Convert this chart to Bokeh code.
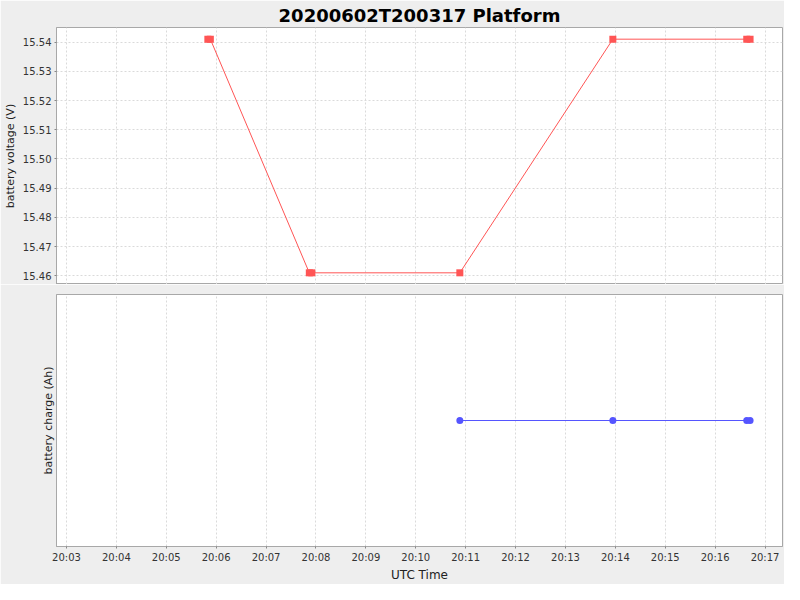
from datetime import datetime
from bokeh.plotting import figure
from bokeh.layouts import column
from bokeh.models import Range1d, FixedTicker, DatetimeTickFormatter, Grid, NumeralTickFormatter
from bokeh.embed import file_html
from bokeh.resources import INLINE

DAY = "2020-06-02"
title_text = "20200602T200317 Platform"

voltage_times = ["20:05:50", "20:05:53", "20:07:52", "20:07:55", "20:10:53",
                 "20:13:57", "20:16:38", "20:16:42"]
voltage_values = [15.541, 15.541, 15.461, 15.461, 15.461, 15.541, 15.541, 15.541]

charge_times = ["20:10:53", "20:13:57", "20:16:38", "20:16:42"]
charge_values = [0.0, 0.0, 0.0, 0.0]

x_tick_labels = ["20:03", "20:04", "20:05", "20:06", "20:07", "20:08", "20:09", "20:10",
                 "20:11", "20:12", "20:13", "20:14", "20:15", "20:16", "20:17"]
y_ticks_voltage = [15.46, 15.47, 15.48, 15.49, 15.50, 15.51, 15.52, 15.53, 15.54]

x_start, x_end = "20:02:48", "20:17:21"
v_min, v_max = 15.457, 15.545
c_min, c_max = -1.0, 1.0

EPOCH = datetime(1970, 1, 1)


def ms(t):
    fmt = "%Y-%m-%d %H:%M:%S" if t.count(":") == 2 else "%Y-%m-%d %H:%M"
    return (datetime.strptime(DAY + " " + t, fmt) - EPOCH).total_seconds() * 1000.0


vx = [ms(t) for t in voltage_times]
cx = [ms(t) for t in charge_times]
x_ticks = [ms(t) for t in x_tick_labels]

BG = "#EEEEEE"
OUTLINE = "#A8A8A8"
GRID = "#DADADA"
FONT = "DejaVu Sans"
RED = "#FF5555"
BLUE = "#5555FF"

x_range = Range1d(ms(x_start), ms(x_end))


def style_common(p):
    p.background_fill_color = "white"
    p.border_fill_color = BG
    p.outline_line_color = OUTLINE
    p.outline_line_width = 1


# --- top plot: voltage ---
p1 = figure(width=784, height=284, x_axis_type="datetime", x_range=x_range,
            y_range=Range1d(v_min, v_max), output_backend="svg",
            toolbar_location=None, x_axis_location=None,
            min_border_left=54, min_border_right=2, min_border_top=0, min_border_bottom=0)
style_common(p1)
p1.title.text = title_text
p1.title.text_font = FONT
p1.title.text_font_size = "18px"
p1.title.text_font_style = "bold"
p1.title.align = "center"
p1.title.text_color = "black"
p1.title.standoff = 4
p1.title.offset = 0

xtick = FixedTicker(ticks=x_ticks)
for g in list(p1.xgrid):
    g.visible = False
p1.add_layout(Grid(dimension=0, ticker=xtick, grid_line_color=GRID,
                   grid_line_dash="2 2", grid_line_width=1), "center")

ya = p1.yaxis[0]
ya.ticker = FixedTicker(ticks=y_ticks_voltage)
ya.formatter = NumeralTickFormatter(format="0.00")
ya.axis_label = "battery voltage (V)"
ya.axis_label_text_font = FONT
ya.axis_label_text_font_size = "11px"
ya.axis_label_text_font_style = "normal"
ya.axis_label_text_color = "#222222"
ya.axis_label_standoff = 3
ya.major_label_text_font = FONT
ya.major_label_text_font_size = "10px"
ya.major_label_text_color = "#333333"
ya.major_label_standoff = 3
ya.major_tick_out = 2
ya.major_tick_in = 0
ya.minor_tick_out = 0
ya.minor_tick_in = 0
ya.axis_line_color = OUTLINE
ya.major_tick_line_color = "#888888"
p1.ygrid.grid_line_color = GRID
p1.ygrid.grid_line_dash = "2 2"
p1.ygrid.ticker = FixedTicker(ticks=y_ticks_voltage)

p1.line(vx, voltage_values, line_color=RED, line_width=1)
p1.scatter(vx, voltage_values, marker="square", size=7, fill_color=RED, line_color=None)

# --- bottom plot: charge ---
p2 = figure(width=784, height=300, x_axis_type="datetime", x_range=x_range,
            y_range=Range1d(c_min, c_max), output_backend="svg",
            toolbar_location=None,
            min_border_left=54, min_border_right=2, min_border_top=10, min_border_bottom=0)
style_common(p2)
for g in list(p2.xgrid):
    g.visible = False
p2.add_layout(Grid(dimension=0, ticker=xtick, grid_line_color=GRID,
                   grid_line_dash="2 2", grid_line_width=1), "center")
p2.ygrid.visible = False

xa = p2.xaxis[0]
xa.ticker = FixedTicker(ticks=x_ticks)
xa.formatter = DatetimeTickFormatter(minutes="%H:%M", hourmin="%H:%M", hours="%H:%M",
                                     seconds="%H:%M", minsec="%H:%M")
xa.axis_label = "UTC Time"
xa.axis_label_text_font = FONT
xa.axis_label_text_font_size = "12px"
xa.axis_label_text_font_style = "normal"
xa.axis_label_text_color = "#222222"
xa.axis_label_standoff = 2
xa.major_label_text_font = FONT
xa.major_label_text_font_size = "10px"
xa.major_label_text_color = "#333333"
xa.major_label_standoff = 3
xa.major_tick_out = 2
xa.major_tick_in = 0
xa.minor_tick_out = 0
xa.minor_tick_in = 0
xa.axis_line_color = OUTLINE
xa.major_tick_line_color = "#888888"

ya2 = p2.yaxis[0]
ya2.ticker = FixedTicker(ticks=[])
ya2.axis_label = "battery charge (Ah)"
ya2.axis_label_text_font = FONT
ya2.axis_label_text_font_size = "11px"
ya2.axis_label_text_font_style = "normal"
ya2.axis_label_text_color = "#222222"
ya2.axis_label_standoff = 2
ya2.major_tick_out = 0
ya2.major_tick_in = 0
ya2.minor_tick_out = 0
ya2.minor_tick_in = 0
ya2.axis_line_color = OUTLINE

p2.line(cx, charge_values, line_color=BLUE, line_width=1)
p2.scatter(cx, charge_values, marker="circle", size=7, fill_color=BLUE, line_color=None)

layout = column(p1, p2, spacing=0)
html = file_html(layout, INLINE, title=title_text)
html = html.replace("<body>", '<body style="background-color:#EEEEEE;">', 1)
open("out.html", "w").write(html)
